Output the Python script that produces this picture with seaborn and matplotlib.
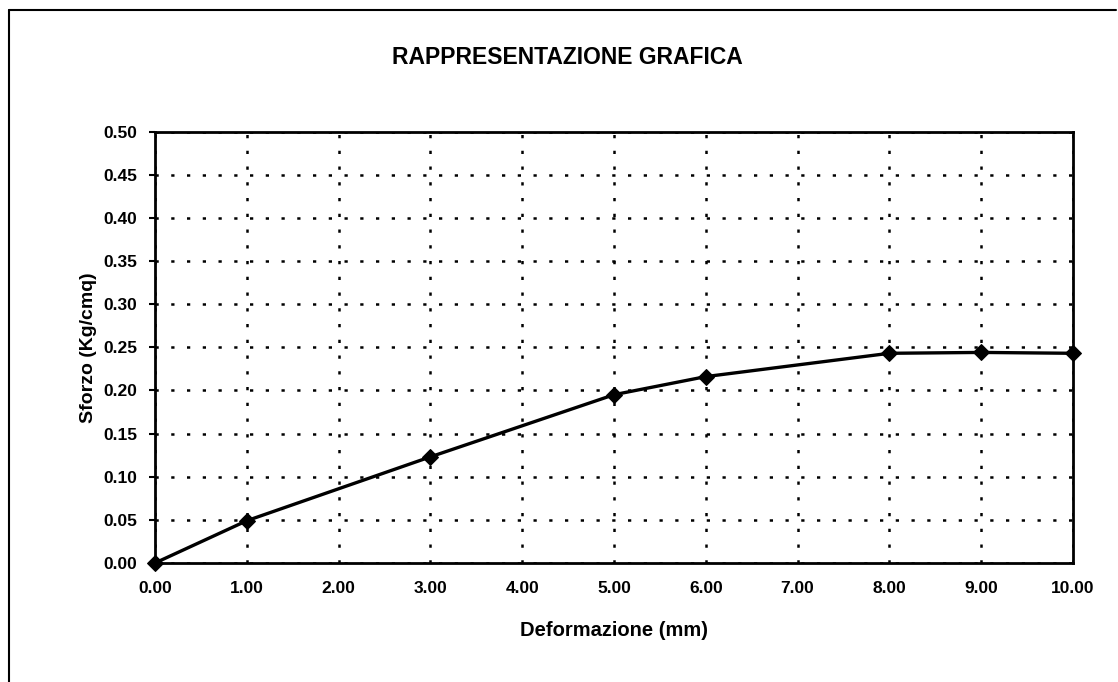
import matplotlib
matplotlib.use("Agg")
import matplotlib.pyplot as plt
from matplotlib.lines import Line2D
import seaborn as sns
import pandas as pd

# Shear test: stress vs deformation
deformazione = [0.0, 1.0, 3.0, 5.0, 6.0, 8.0, 9.0, 10.0]
sforzo = [0.0, 0.049, 0.123, 0.195, 0.216, 0.243, 0.244, 0.243]
x_ticks = [0, 1, 2, 3, 4, 5, 6, 7, 8, 9, 10]
y_ticks = [0.00, 0.05, 0.10, 0.15, 0.20, 0.25, 0.30, 0.35, 0.40, 0.45, 0.50]

sns.set_style("white")
plt.rcParams["font.family"] = ["Liberation Sans", "DejaVu Sans"]
plt.rcParams["text.color"] = "black"
plt.rcParams["axes.labelcolor"] = "black"

df = pd.DataFrame({"Deformazione": deformazione, "Sforzo": sforzo})

W, H = 1118, 682
fig = plt.figure(figsize=(W / 100, H / 100), dpi=100)
ax = fig.add_axes([155 / W, 1 - 563 / H, (1073 - 155) / W, (563 - 131.5) / H])

sns.lineplot(data=df, x="Deformazione", y="Sforzo", ax=ax, color="black",
             linewidth=2.4, marker="D", markersize=8.5, markeredgecolor="black",
             clip_on=False, zorder=5)

ax.set_xlim(0, 10)
ax.set_ylim(0, 0.5)
ax.set_xticks(x_ticks)
ax.set_xticklabels([f"{v:.2f}" for v in x_ticks])
ax.set_yticks(y_ticks)
ax.set_yticklabels([f"{v:.2f}" for v in y_ticks])

ax.grid(True, color="black", linestyle=(0, (1.3, 5)), linewidth=1.8)
for s in ax.spines.values():
    s.set_visible(True)
    s.set_color("black")
    s.set_linewidth(2.0)

ax.tick_params(axis="y", direction="out", length=4, width=1.5, color="black",
               labelsize=12.5, pad=9, left=True, labelcolor="black")
ax.tick_params(axis="x", direction="out", length=0, labelsize=12.5, pad=13,
               labelcolor="black")
for lbl in ax.get_xticklabels() + ax.get_yticklabels():
    lbl.set_fontweight("bold")

ax.set_xlabel("Deformazione (mm)", fontsize=14.5, fontweight="bold", labelpad=18,
              color="black")
ax.set_ylabel("Sforzo (Kg/cmq)", fontsize=14, fontweight="bold", labelpad=4,
              color="black")

fig.text(567 / W, 1 - 58 / H, "RAPPRESENTAZIONE GRAFICA", ha="center", va="center",
         fontsize=16.5, fontweight="bold", color="black")

# outer chart frame
fig.add_artist(Line2D([9 / W, 9 / W], [0, 1 - 10 / H], transform=fig.transFigure,
                      color="black", linewidth=1.5))
fig.add_artist(Line2D([9 / W, 1116 / W], [1 - 10 / H, 1 - 10 / H],
                      transform=fig.transFigure, color="black", linewidth=1.5))

fig.savefig("out.png", dpi=100, facecolor="white")
